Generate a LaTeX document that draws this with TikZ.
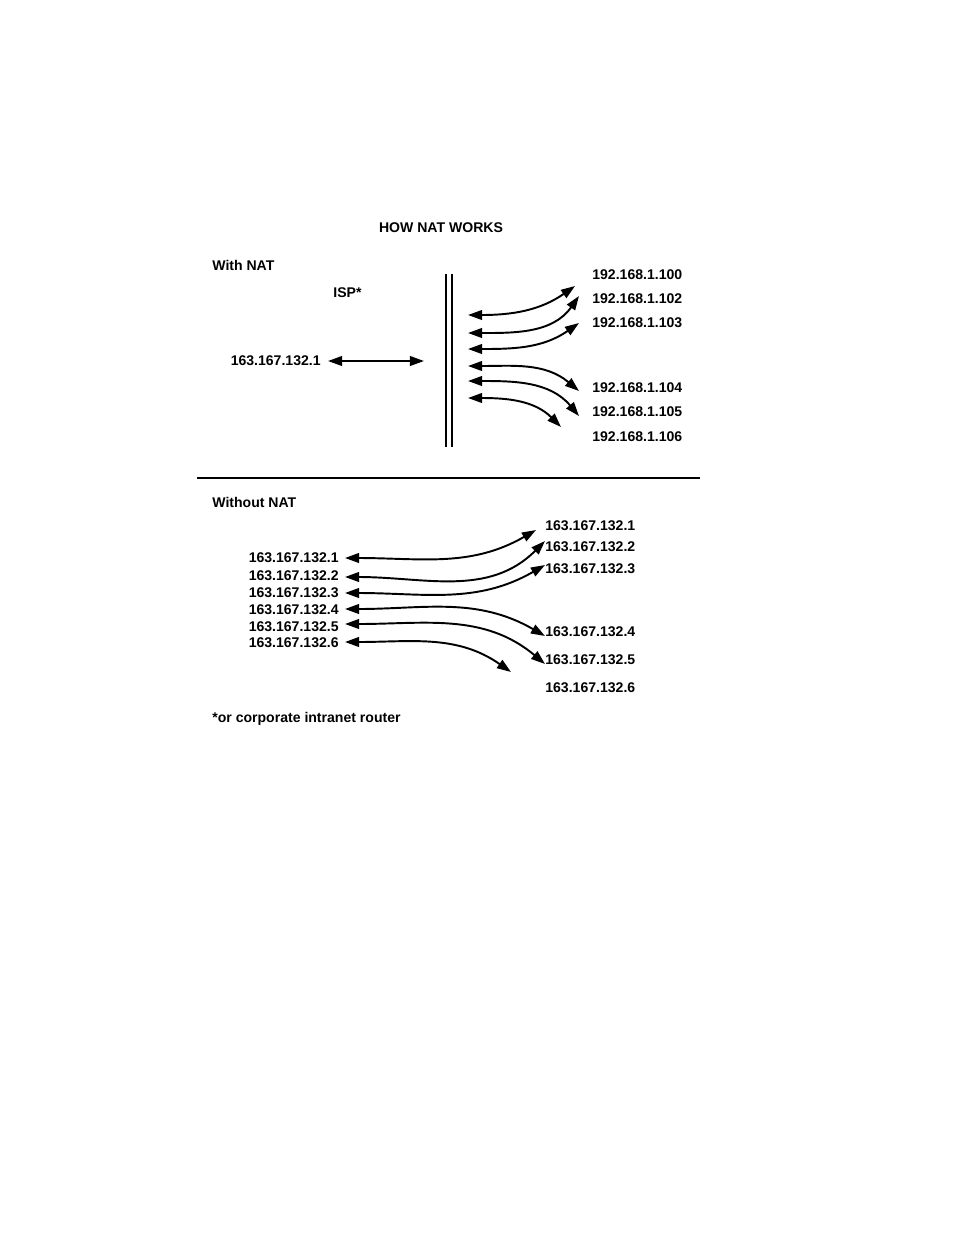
\documentclass[tikz,border=0pt]{standalone}
\usepackage{fontspec}
\setmainfont{Liberation Sans}
\usetikzlibrary{arrows.meta}

\tikzset{
  lbl/.style={font=\fontsize{8}{9.6}\selectfont\bfseries, inner sep=0pt},
  link/.style={line width=1.1pt, {Triangle[length=8pt,width=5.5pt]}-{Triangle[length=8pt,width=5.5pt]}},
}

\begin{document}
\begin{tikzpicture}[x=0.02cm,y=-0.02cm]
  \useasboundingbox (0,0) rectangle (954,1235);

  % titles
  \node[lbl] (title) at (441,228) {HOW NAT WORKS};
  \node[lbl,anchor=west] (with)    at (212,265) {With NAT};
  \node[lbl,anchor=west] (isp)     at (333,293) {ISP*};
  \node[lbl,anchor=west] (without) at (212,502) {Without NAT};
  \node[lbl,anchor=west] (note)    at (212,719) {*or corporate intranet router};

  % with NAT
  \node[lbl,anchor=east] (pub) at (321,361) {163.167.132.1};
  \coordinate (pl) at (328,361);
  \coordinate (pr) at (424,361);
  \draw[link] (pl) -- (pr);
  \draw[line width=1pt] (446,274) -- (446,447) (452,274) -- (452,447);

  \foreach \i/\y in {1/275,2/299,3/323,4/388,5/412,6/437}
    \node[lbl,anchor=west] (p\i) at (592,\y) {};
  \node[lbl,anchor=west] at (p1.west) {192.168.1.100};
  \node[lbl,anchor=west] at (p2.west) {192.168.1.102};
  \node[lbl,anchor=west] at (p3.west) {192.168.1.103};
  \node[lbl,anchor=west] at (p4.west) {192.168.1.104};
  \node[lbl,anchor=west] at (p5.west) {192.168.1.105};
  \node[lbl,anchor=west] at (p6.west) {192.168.1.106};

  \foreach \i/\ya/\xb/\yb/\ang in {1/315/575/286/215,2/333/579/296/235,3/349/579/323/215,
                                   4/366/579/391/140,5/381/579/416/130,6/398/561/427/135} {
    \coordinate (a\i) at (468,\ya);
    \coordinate (b\i) at (\xb,\yb);
    \draw[link] (a\i) to[out=0,in=\ang] (b\i);
  }

  \draw[line width=1pt] (197,478) -- (700,478);

  % without NAT
  \foreach \i/\y in {1/558,2/576,3/593,4/610,5/627,6/643}
    \node[lbl,anchor=east] (l\i) at (339,\y) {163.167.132.\i};
  \foreach \i/\y in {1/526,2/547,3/569,4/632,5/660,6/688}
    \node[lbl,anchor=west] (r\i) at (545,\y) {163.167.132.\i};

  \foreach \i/\ya/\xb/\yb/\ang in {1/558/536/530/210,2/577/545/541/225,3/593/545/565/210,
                                   4/609/545/636/150,5/624/545/664/140,6/642/511/672/145} {
    \coordinate (c\i) at (345,\ya);
    \coordinate (d\i) at (\xb,\yb);
    \draw[link] (c\i) to[out=0,in=\ang] (d\i);
  }
\end{tikzpicture}
\end{document}
